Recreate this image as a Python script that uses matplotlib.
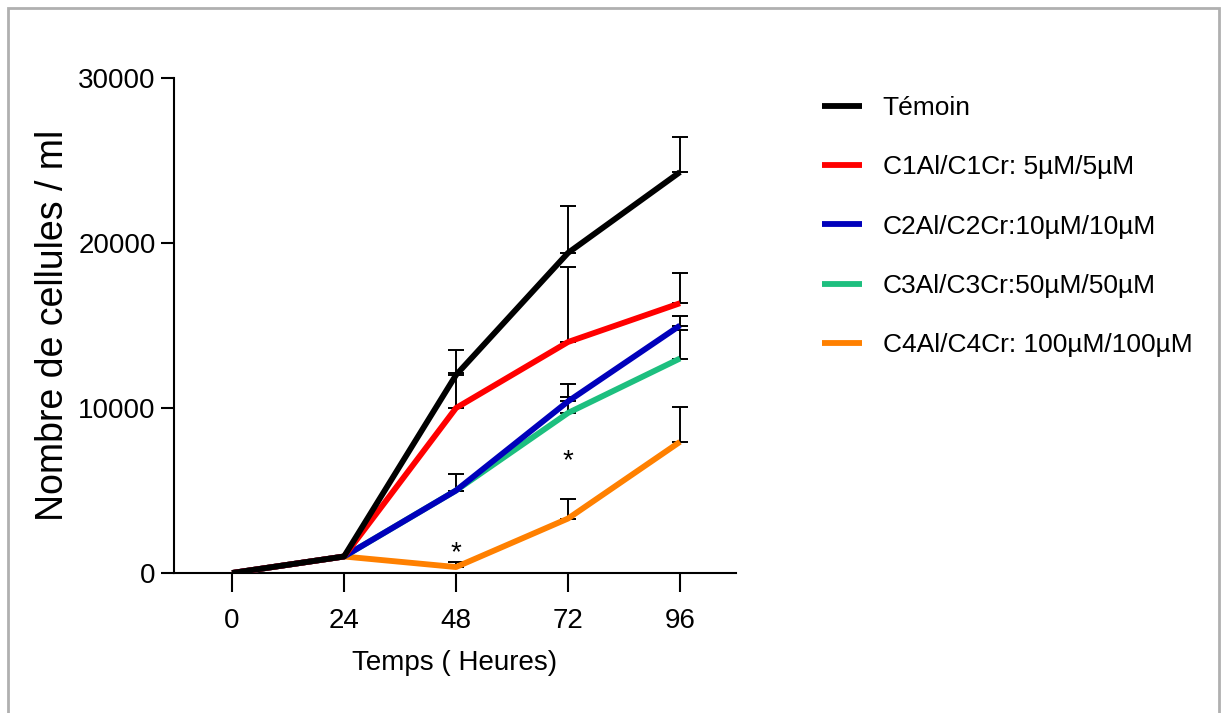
import numpy as np
import matplotlib.pyplot as plt
from matplotlib.patches import Rectangle

plt.rcParams['font.family'] = ['Liberation Sans', 'DejaVu Sans']

hours = [0, 24, 48, 72, 96]
labels = ['Témoin', 'C1Al/C1Cr: 5µM/5µM', 'C2Al/C2Cr:10µM/10µM',
          'C3Al/C3Cr:50µM/50µM', 'C4Al/C4Cr: 100µM/100µM']
colors = ['#000000', '#ff0000', '#0000bb', '#1dbf7f', '#ff8000']

temoin = [0, 1000, 12000, 19400, 24300]
c1 = [0, 1000, 10000, 14000, 16350]
c2 = [0, 1000, 5000, 10400, 15000]
c3 = [0, 1000, 5000, 9700, 13000]
c4 = [0, 1000, 360, 3300, 7950]

# upper end of the error bars
temoin_top = [0, 0, 13500, 22250, 26400]
c1_top = [0, 0, 12100, 18550, 18200]
c2_top = [0, 0, 6000, 11450, 15600]
c3_top = [0, 0, 5000, 10650, 14700]
c4_top = [0, 0, 670, 4500, 10050]

series = [temoin, c1, c2, c3, c4]
tops = [temoin_top, c1_top, c2_top, c3_top, c4_top]

star_x = [48, 72]
star_y = [1200, 6750]

fig = plt.figure(figsize=(12.23, 7.13), dpi=100)
ax = fig.add_axes([173.7 / 1223, 1 - 573 / 713, (736 - 173.7) / 1223, 495 / 713])

for i, (y, top, c, lab) in enumerate(zip(series, tops, colors, labels)):
    y = np.array(y)
    top = np.array(top)
    up = np.where(top > y, top - y, 0)
    ax.errorbar(hours[2:], y[2:], yerr=[np.zeros(3), up[2:]], fmt='none',
                ecolor='black', elinewidth=1.4, capsize=5.5, capthick=1.4,
                zorder=2)
    ax.plot(hours, y, color=c, lw=4.2, label=lab, zorder=10 - i,
            solid_capstyle='butt')

for sx, sy in zip(star_x, star_y):
    ax.text(sx, sy, '*', ha='center', va='center', fontsize=20)

ax.set_xlim(-12.5, 108)
ax.set_ylim(0, 30000)
ax.set_xticks(hours)
ax.set_yticks([0, 10000, 20000, 30000])
ax.spines['top'].set_visible(False)
ax.spines['right'].set_visible(False)
for s in ['left', 'bottom']:
    ax.spines[s].set_linewidth(1.5)
ax.tick_params(axis='x', length=14, width=1.5, labelsize=20, pad=11)
ax.tick_params(axis='y', length=9.5, width=1.5, labelsize=20, pad=3.6)
ax.set_xlabel('Temps ( Heures)', fontsize=20, labelpad=12)
ax.set_ylabel('Nombre de cellules / ml', fontsize=27, labelpad=5)

ax.legend(loc='upper left', bbox_to_anchor=(822 / 1223, 1 - 96 / 713),
          bbox_transform=fig.transFigure, frameon=False, borderpad=0,
          borderaxespad=0, fontsize=19, handlelength=1.5,
          handletextpad=0.8, labelspacing=1.34)

fig.patches.append(Rectangle((8 / 1223, -10 / 713), 1211 / 1223, 715 / 713,
                             transform=fig.transFigure, fill=False,
                             edgecolor='#b0b0b0', lw=2))

fig.savefig('out.png', dpi=100)
